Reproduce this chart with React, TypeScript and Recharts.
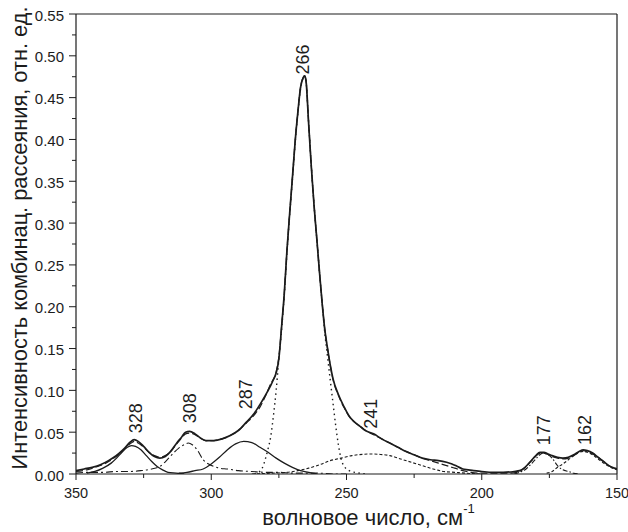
import React from "react";
import {
  LineChart,
  Line,
  XAxis,
  YAxis,
  ReferenceLine,
  ReferenceDot,
} from "recharts";

type Pair = [number, number];

// measured spectrum, wavenumber (cm-1) → intensity
const EXPERIMENT: Pair[] = [
  [350, 0.004], [347, 0.006], [344, 0.008], [341, 0.011], [338, 0.016],
  [336, 0.02], [334, 0.025], [332, 0.031], [330, 0.038], [328.5, 0.041],
  [327, 0.039], [325, 0.033], [323, 0.026], [321, 0.021], [319, 0.019],
  [317, 0.021], [315, 0.027], [313, 0.036], [311, 0.044], [309.5, 0.05],
  [308, 0.051], [306, 0.048], [304, 0.043], [302, 0.04], [299, 0.04],
  [296, 0.042], [293, 0.046], [290, 0.052], [287, 0.062], [284, 0.073],
  [282, 0.083], [280, 0.094], [278, 0.106], [277, 0.113], [276, 0.121],
  [275, 0.138], [274, 0.176], [273, 0.216], [272, 0.268], [271, 0.312],
  [270, 0.354], [269, 0.397], [268, 0.432], [267, 0.462], [266, 0.474],
  [265.5, 0.476], [265, 0.471], [264, 0.419], [263, 0.367], [262, 0.321],
  [261, 0.282], [260, 0.242], [259, 0.204], [258, 0.172], [257, 0.15],
  [256, 0.13], [255, 0.114], [253, 0.095], [251, 0.081], [249, 0.069],
  [247, 0.062], [245, 0.057], [243, 0.052], [240, 0.048], [237, 0.042],
  [234, 0.037], [231, 0.032], [228, 0.027], [225, 0.023], [222, 0.019],
  [219, 0.017], [216, 0.016], [213, 0.014], [211, 0.012], [209, 0.009],
  [207, 0.006], [205, 0.005], [203, 0.004], [200, 0.003], [196, 0.002],
  [192, 0.002], [188, 0.003], [186, 0.004], [184, 0.008], [182, 0.015],
  [180, 0.022], [178.5, 0.026], [177, 0.026], [175.5, 0.024], [174, 0.022],
  [172, 0.02], [170, 0.019], [168, 0.02], [166, 0.023], [164, 0.027],
  [162.5, 0.029], [161, 0.028], [159, 0.025], [157, 0.02], [155, 0.015],
  [153, 0.01], [151, 0.007], [150, 0.006],
];

// sum of the fitted bands
const FIT_SUM: Pair[] = [
  [350, 0.003], [346, 0.005], [342, 0.009], [339, 0.013], [336, 0.019],
  [334, 0.024], [332, 0.03], [330, 0.036], [328.5, 0.039], [327, 0.037],
  [325, 0.032], [323, 0.026], [321, 0.022], [319, 0.02], [317, 0.022],
  [315, 0.027], [313, 0.035], [311, 0.043], [309.5, 0.048], [308, 0.049],
  [306, 0.047], [304, 0.043], [302, 0.04], [299, 0.04], [296, 0.042],
  [293, 0.046], [290, 0.052], [287, 0.061], [284, 0.071], [282, 0.08],
  [280, 0.093], [278, 0.108], [276, 0.122], [275, 0.14], [274, 0.176],
  [273, 0.216], [272, 0.268], [271, 0.312], [270, 0.354], [269, 0.397],
  [268, 0.432], [267, 0.462], [266, 0.474], [265.5, 0.476], [265, 0.471],
  [264, 0.42], [263, 0.368], [262, 0.322], [261, 0.282], [260, 0.242],
  [259, 0.205], [258, 0.172], [257, 0.15], [256, 0.13], [255, 0.113],
  [253, 0.094], [251, 0.08], [249, 0.069], [247, 0.062], [245, 0.057],
  [243, 0.052], [240, 0.047], [237, 0.042], [234, 0.037], [231, 0.032],
  [228, 0.027], [225, 0.023], [222, 0.019], [219, 0.016], [216, 0.013],
  [213, 0.01], [210, 0.007], [207, 0.004], [204, 0.002], [200, 0.001],
  [195, 0.001], [190, 0.001], [187, 0.002], [185, 0.005], [183, 0.011],
  [181, 0.018], [179, 0.024], [177.5, 0.025], [176, 0.024], [174, 0.021],
  [172, 0.019], [170, 0.018], [168, 0.019], [166, 0.022], [164, 0.026],
  [162.5, 0.028], [161, 0.027], [159, 0.024], [157, 0.02], [155, 0.015],
  [153, 0.01], [151, 0.007], [150, 0.006],
];

// individual bands
const BAND_328: Pair[] = [
  [346, 0.001], [343, 0.003], [340, 0.007], [337, 0.013], [335, 0.019],
  [333, 0.026], [331, 0.032], [329.5, 0.034], [328, 0.033], [326, 0.029],
  [324, 0.022], [322, 0.015], [320, 0.009], [318, 0.005], [316, 0.002],
  [313, 0.001], [310, 0],
];

const BAND_308: Pair[] = [
  [350, 0.001], [345, 0.002], [340, 0.002], [335, 0.003], [330, 0.003],
  [326, 0.004], [322, 0.006], [319, 0.009], [316, 0.018], [314, 0.025],
  [312, 0.031], [310, 0.035], [308.5, 0.037], [307, 0.035], [305, 0.028],
  [303, 0.017], [301, 0.012], [299, 0.009], [297, 0.007], [294, 0.006],
  [290, 0.004], [285, 0.003], [280, 0.002], [275, 0.002], [270, 0.001],
  [265, 0.001], [260, 0.001], [255, 0], [250, 0],
];

const BAND_287: Pair[] = [
  [312, 0.001], [309, 0.002], [306, 0.004], [303, 0.006], [300, 0.012],
  [297, 0.02], [294, 0.029], [291, 0.036], [288, 0.039], [285, 0.0375],
  [282, 0.032], [279, 0.026], [276, 0.019], [273, 0.013], [270, 0.008],
  [267, 0.004], [264, 0.002], [261, 0],
];

const BAND_266: Pair[] = [
  [284, 0], [283, 0.001], [281, 0.008], [280, 0.018], [279, 0.03],
  [278, 0.045], [277, 0.07], [276, 0.1], [275, 0.138], [274, 0.172],
  [273, 0.214], [272, 0.265], [271, 0.31], [270, 0.352], [269, 0.395],
  [268, 0.43], [267, 0.46], [266, 0.474], [265.5, 0.476], [265, 0.471],
  [264, 0.42], [263, 0.368], [262, 0.322], [261, 0.282], [260, 0.242],
  [259, 0.205], [258, 0.168], [257, 0.14], [256, 0.112], [255, 0.085],
  [254, 0.058], [253, 0.035], [252, 0.018], [251, 0.01], [250, 0.006],
  [249, 0.004], [247, 0.002], [245, 0.001], [243, 0],
];

const BAND_241: Pair[] = [
  [285, 0], [278, 0.001], [272, 0.002], [268, 0.004], [264, 0.007],
  [260, 0.011], [256, 0.016], [252, 0.019], [248, 0.022], [244, 0.0235],
  [241, 0.024], [238, 0.0235], [234, 0.022], [230, 0.018], [226, 0.014],
  [222, 0.01], [218, 0.006], [214, 0.003], [210, 0.002], [206, 0.001],
  [200, 0],
];

const BAND_177: Pair[] = [
  [188, 0], [186, 0.002], [184, 0.005], [182, 0.011], [180, 0.018],
  [178.5, 0.023], [177.5, 0.025], [176, 0.024], [174, 0.019], [172, 0.01],
  [170, 0.005], [168, 0.003], [166, 0.001], [164, 0],
];

const BAND_162: Pair[] = [
  [176, 0.001], [174, 0.003], [172, 0.008], [170, 0.012], [168, 0.017],
  [166, 0.022], [164, 0.026], [162.5, 0.027], [161, 0.026], [159, 0.023],
  [157, 0.018], [155, 0.013], [153, 0.009], [151, 0.006], [150, 0.005],
];

const PEAK_LABELS = [328, 308, 287, 266, 241, 177, 162];

const X_MAJOR = [350, 300, 250, 200, 150];
const X_MINOR = [325, 275, 225, 175];
const Y_MAJOR = [0, 0.05, 0.1, 0.15, 0.2, 0.25, 0.3, 0.35, 0.4, 0.45, 0.5, 0.55];
const Y_MINOR = [0.025, 0.075, 0.125, 0.175, 0.225, 0.275, 0.325, 0.375, 0.425, 0.475, 0.525];

const INK = "#1c1c1c";
const FONT = "'Liberation Sans', Arial, sans-serif";

// px gap between curve and the rotated peak label
const LABEL_GAP: Record<number, number> = {
  328: 7, 308: 8, 287: 13, 266: 3, 241: 4, 177: 7, 162: 5,
};

const toPoints = (pairs: Pair[]) => pairs.map(([wn, v]) => ({ wn, v }));

function levelAt(wn: number): number {
  for (let i = 0; i < EXPERIMENT.length - 1; i++) {
    const [x0, y0] = EXPERIMENT[i];
    const [x1, y1] = EXPERIMENT[i + 1];
    if (wn <= x0 && wn >= x1) {
      return y0 + ((wn - x0) / (x1 - x0)) * (y1 - y0);
    }
  }
  return 0;
}

const isMajor = (v: number, majors: number[]) =>
  majors.some((m) => Math.abs(m - v) < 1e-6);

function XTick(props: any) {
  const { x, y, payload } = props;
  const major = isMajor(payload.value, X_MAJOR);
  return (
    <g>
      <line x1={x} x2={x} y1={y} y2={y + (major ? 6 : 4)} stroke={INK} strokeWidth={1} />
      {major && (
        <text x={x} y={y + 24} textAnchor="middle" fontSize={14.5} fill={INK} fontFamily={FONT}>
          {payload.value}
        </text>
      )}
    </g>
  );
}

function YTick(props: any) {
  const { x, y, payload } = props;
  const major = isMajor(payload.value, Y_MAJOR);
  return (
    <g>
      <line x1={x - (major ? 7 : 4)} x2={x} y1={y} y2={y} stroke={INK} strokeWidth={1} />
      {major && (
        <text
          x={x - 12}
          y={y + 1}
          textAnchor="end"
          dominantBaseline="central"
          fontSize={15}
          fill={INK}
          fontFamily={FONT}
        >
          {payload.value.toFixed(2)}
        </text>
      )}
    </g>
  );
}

function PeakLabel({ cx, cy, text, gap }: { cx: number; cy: number; text: string; gap: number }) {
  const ty = cy - gap;
  return (
    <text
      x={cx}
      y={ty}
      transform={`rotate(-90 ${cx} ${ty})`}
      textAnchor="start"
      dominantBaseline="central"
      fontSize={18}
      fill={INK}
      fontFamily={FONT}
    >
      {text}
    </text>
  );
}

function YTitle({ viewBox }: any) {
  const x = 19;
  const y = viewBox.y + viewBox.height / 2 - 6;
  return (
    <text
      x={x}
      y={y}
      transform={`rotate(-90 ${x} ${y})`}
      textAnchor="middle"
      dominantBaseline="central"
      fontSize={21.8}
      fill={INK}
      fontFamily={FONT}
    >
      Интенсивность комбинац. рассеяния, отн. ед.
    </text>
  );
}

function XTitle({ viewBox }: any) {
  const x = viewBox.x + viewBox.width / 2 + 22;
  return (
    <text x={x} y={525} textAnchor="middle" fontSize={22} fill={INK} fontFamily={FONT}>
      волновое число, см
      <tspan dy={-12} fontSize={13}>-1</tspan>
    </text>
  );
}

const series = [
  { key: "exp", data: EXPERIMENT, width: 1.7, dash: undefined },
  { key: "fit", data: FIT_SUM, width: 1.2, dash: "7 3" },
  { key: "b328", data: BAND_328, width: 1.3, dash: undefined },
  { key: "b308", data: BAND_308, width: 1.1, dash: "7 3 2 3" },
  { key: "b287", data: BAND_287, width: 1.3, dash: undefined },
  { key: "b266", data: BAND_266, width: 1.4, dash: "1.5 3.5" },
  { key: "b241", data: BAND_241, width: 1.1, dash: "3 2" },
  { key: "b177", data: BAND_177, width: 1.1, dash: "5 2 1.5 2" },
  { key: "b162", data: BAND_162, width: 1.1, dash: "3 2" },
];

export default function App() {
  return (
    <div style={{ position: "absolute", left: 0, top: 0, width: 628, height: 532, background: "#fff" }}>
      <LineChart width={628} height={532} margin={{ top: 14, right: 11, bottom: 0, left: 0 }}>
        <XAxis
          dataKey="wn"
          type="number"
          domain={[150, 350]}
          reversed
          allowDataOverflow
          ticks={[...X_MAJOR, ...X_MINOR].sort((a, b) => a - b)}
          interval={0}
          height={58}
          tickSize={0}
          tickMargin={0}
          tick={<XTick />}
          axisLine={{ stroke: INK, strokeWidth: 1.2 }}
          label={<XTitle />}
        />
        <YAxis
          type="number"
          domain={[0, 0.55]}
          allowDataOverflow
          ticks={[...Y_MAJOR, ...Y_MINOR].sort((a, b) => a - b)}
          interval={0}
          width={76}
          tickSize={0}
          tickMargin={0}
          tick={<YTick />}
          axisLine={{ stroke: INK, strokeWidth: 1.2 }}
          label={<YTitle />}
        />
        <ReferenceLine y={0.55} stroke={INK} strokeWidth={1.2} />
        <ReferenceLine x={150} stroke={INK} strokeWidth={1.2} />
        {series.map((s) => (
          <Line
            key={s.key}
            data={toPoints(s.data)}
            dataKey="v"
            type="monotone"
            stroke={INK}
            strokeWidth={s.width}
            strokeDasharray={s.dash}
            dot={false}
            activeDot={false}
            isAnimationActive={false}
          />
        ))}
        {PEAK_LABELS.map((wn) => (
          <ReferenceDot
            key={wn}
            x={wn}
            y={levelAt(wn)}
            r={0}
            ifOverflow="visible"
            shape={(p: any) => (
              <PeakLabel cx={p.cx} cy={p.cy} text={String(wn)} gap={LABEL_GAP[wn]} />
            )}
          />
        ))}
      </LineChart>
    </div>
  );
}
